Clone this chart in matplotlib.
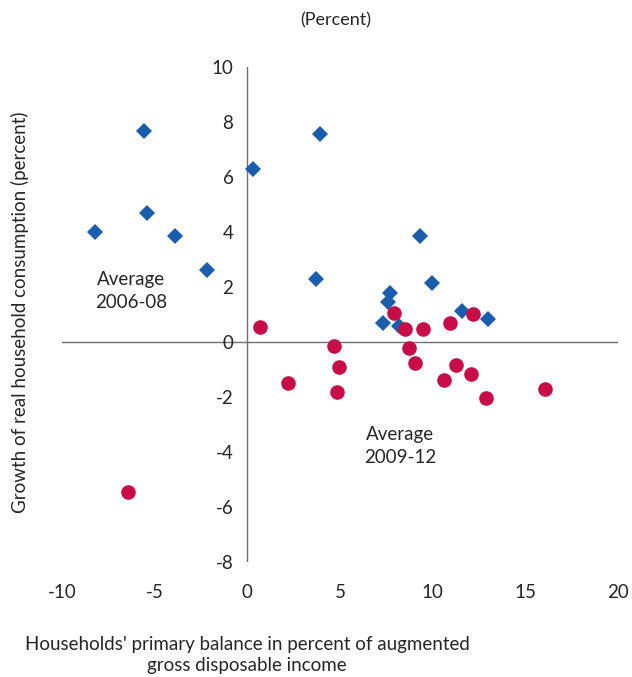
import matplotlib
matplotlib.use('Agg')
import matplotlib.pyplot as plt

# 2006-08 averages (blue diamonds)
x_0608 = [-5.59, 3.92, 0.31, -5.43, -8.24, -3.92, 9.32, -2.19, 3.70, 9.94,
          7.70, 7.59, 11.57, 13.0, 7.31, 8.17]
y_0608 = [7.67, 7.56, 6.28, 4.69, 4.00, 3.85, 3.85, 2.62, 2.29, 2.15,
          1.77, 1.44, 1.13, 0.84, 0.68, 0.59]

# 2009-12 averages (red circles)
x_0912 = [0.68, 4.68, 4.95, 2.21, 4.82, 7.92, 8.50, 9.47, 10.95, 12.15,
          8.71, 9.07, 11.25, 12.08, 10.62, 12.88, 16.04, -6.44]
y_0912 = [0.56, -0.13, -0.90, -1.50, -1.82, 1.04, 0.47, 0.47, 0.68, 1.01,
          -0.21, -0.77, -0.84, -1.17, -1.39, -2.04, -1.71, -5.45]

x_ticks = [-10, -5, 0, 5, 10, 15, 20]
y_ticks = [-8, -6, -4, -2, 0, 2, 4, 6, 8, 10]

plt.rcParams['font.family'] = ['Lato', 'DejaVu Sans']
plt.rcParams['axes.unicode_minus'] = False
txt = '#262626'

fig = plt.figure(figsize=(6.32, 6.77), dpi=100)
ax = fig.add_axes([62 / 632, 1 - 562 / 677, (618 - 62) / 632, (562 - 67) / 677])

ax.axhline(0, color='#707070', lw=1, zorder=1)
ax.axvline(0, color='#707070', lw=1, zorder=1)

ax.plot(x_0608, y_0608, 'D', color='#1A5DAD', markersize=8.5, markeredgewidth=0, zorder=3)
ax.plot(x_0912, y_0912, 'o', color='#C80C47', markersize=10.5, markeredgewidth=0, zorder=3)

ax.set_xlim(-10, 20)
ax.set_ylim(-8, 10)
for s in ['top', 'right', 'bottom', 'left']:
    ax.spines[s].set_visible(False)
# y tick labels sit beside the zero line
ax.spines['left'].set_position(('data', 0))

ax.set_xticks(x_ticks)
ax.set_yticks(y_ticks)
ax.tick_params(axis='both', length=0, labelsize=13.5, labelcolor=txt)
ax.tick_params(axis='x', pad=16)
ax.tick_params(axis='y', pad=10)

ax.text(-6.26, 1.85, 'Average\n2006-08', ha='center', va='center',
        fontsize=13.5, color=txt, linespacing=1.45)
ax.text(8.24, -3.78, 'Average\n2009-12', ha='center', va='center',
        fontsize=13.5, color=txt, linespacing=1.45)

fig.text(336 / 632, 1 - 20 / 677, '(Percent)', ha='center', va='center',
         fontsize=13, color=txt)
fig.text(20 / 632, 1 - 312 / 677, 'Growth of real household consumption (percent)',
         rotation=90, ha='center', va='center', fontsize=13.5, color=txt)
fig.text(247 / 632, 1 - 655 / 677,
         "Households' primary balance in percent of augmented\ngross disposable income",
         ha='center', va='center', fontsize=13.5, color=txt, linespacing=1.3,
         multialignment='center')

plt.savefig('out.png', dpi=100)
